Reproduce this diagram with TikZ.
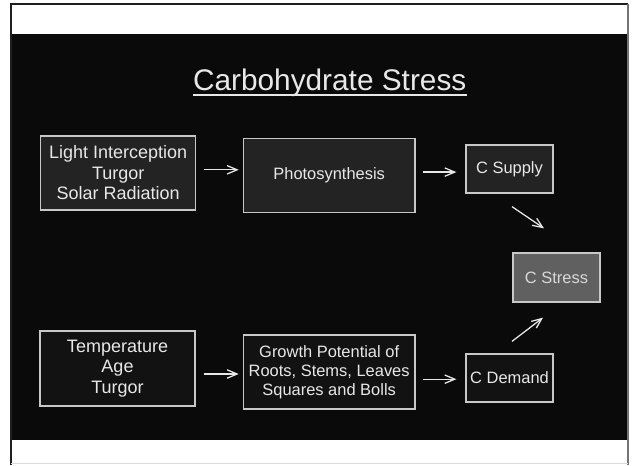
\documentclass[tikz,border=0pt]{standalone}
\usepackage{fontspec}
\setmainfont{Liberation Sans}
\usepackage{tikz}
\usetikzlibrary{positioning,arrows.meta}
\definecolor{slidebg}{HTML}{0A0A0A}
\definecolor{slidetext}{HTML}{E8E8E8}
\definecolor{boxline}{HTML}{C8C8C8}
\definecolor{darkfill}{HTML}{232323}
\definecolor{deepfill}{HTML}{121212}
\definecolor{stressfill}{HTML}{606060}
\tikzset{
  slidebox/.style={draw=boxline, line width=0.9pt, align=center, text=slidetext, inner sep=2pt},
  inbox/.style={slidebox, fill=darkfill, font=\fontsize{12.8}{14.6}\selectfont},
  procbox/.style={slidebox, font=\fontsize{11.7}{13.5}\selectfont},
  arrow/.style={-{Straight Barb[length=2.5mm,width=2.1mm]}, draw=slidetext, line width=0.9pt}
}
\newcommand{\titlefont}{\fontsize{21.2}{24}\selectfont}

\begin{document}
\begin{tikzpicture}
  \useasboundingbox (0,0) rectangle (15.8,11.625);
  \fill[white] (0,0) rectangle (15.8,11.625);
  \fill[slidebg] (0.275,0.625) rectangle (15.675,10.775);
  % slide frame
  \draw[black!88, line width=1.4pt] (0.275,0) -- (0.275,11.5325) -- (15.7,11.5325);
  \draw[black!55, line width=1.4pt] (15.7,11.5325) -- (15.7,0);
  \draw[black!14, line width=1pt] (0.275,0.0375) -- (15.7,0.0375);

  \node[text=slidetext, font=\titlefont, anchor=base, inner sep=0pt] (title) at (8.2425,9.35) {Carbohydrate Stress};
  \draw[slidetext, line width=1.4pt] ([yshift=-0.1cm]title.base west) -- ([yshift=-0.1cm]title.base east);

  \node[inbox, minimum width=3.875cm, minimum height=1.85cm] (light) at (2.955,7.3) {Light Interception\\ Turgor\\ Solar Radiation};
  \node[procbox, fill=darkfill, minimum width=4.29cm, minimum height=1.85cm] (photo) at (8.229,7.2425) {Photosynthesis};
  \node[procbox, fill=darkfill, minimum width=2.175cm, minimum height=1.2cm] (supply) at (12.7375,7.4) {C Supply};

  \node[procbox, fill=stressfill, text=black!15, minimum width=2.175cm, minimum height=1.225cm] (stress) at (13.9125,4.6875) {C Stress};

  \node[inbox, fill=deepfill, minimum width=3.875cm, minimum height=1.875cm] (temp) at (2.9375,2.4125) {Temperature\\ Age\\ Turgor};
  \node[procbox, fill=deepfill, minimum width=4.29cm, minimum height=1.85cm] (growth) at (8.229,2.325) {Growth Potential of\\ Roots, Stems, Leaves\\ Squares and Bolls};
  \node[procbox, fill=deepfill, minimum width=2.175cm, minimum height=1.2cm] (demand) at (12.7375,2.175) {C Demand};

  \draw[arrow, shorten <=0.2cm, shorten >=0.1cm] ([yshift=0.08cm]light.east) -- ([yshift=0.08cm]light.east -| photo.west);
  \draw[arrow, shorten <=0.175cm, shorten >=0.225cm] ([yshift=0.08cm]photo.east) -- ([yshift=0.08cm]photo.east -| supply.west);
  \draw[arrow] ([shift={(0.0625,-0.325)}]supply.south) -- ([shift={(-0.3125,0.6)}]stress.north);

  \draw[arrow, shorten <=0.2cm, shorten >=0.1cm] ([yshift=-0.05cm]temp.east |- growth.west) -- ([yshift=-0.05cm]growth.west);
  \draw[arrow, shorten <=0.175cm, shorten >=0.225cm] ([yshift=-0.03cm]growth.east |- demand.west) -- ([yshift=-0.03cm]demand.west);
  \draw[arrow] ([shift={(0.0625,0.3)}]demand.north) -- ([shift={(-0.3375,-0.375)}]stress.south);
\end{tikzpicture}
\end{document}
